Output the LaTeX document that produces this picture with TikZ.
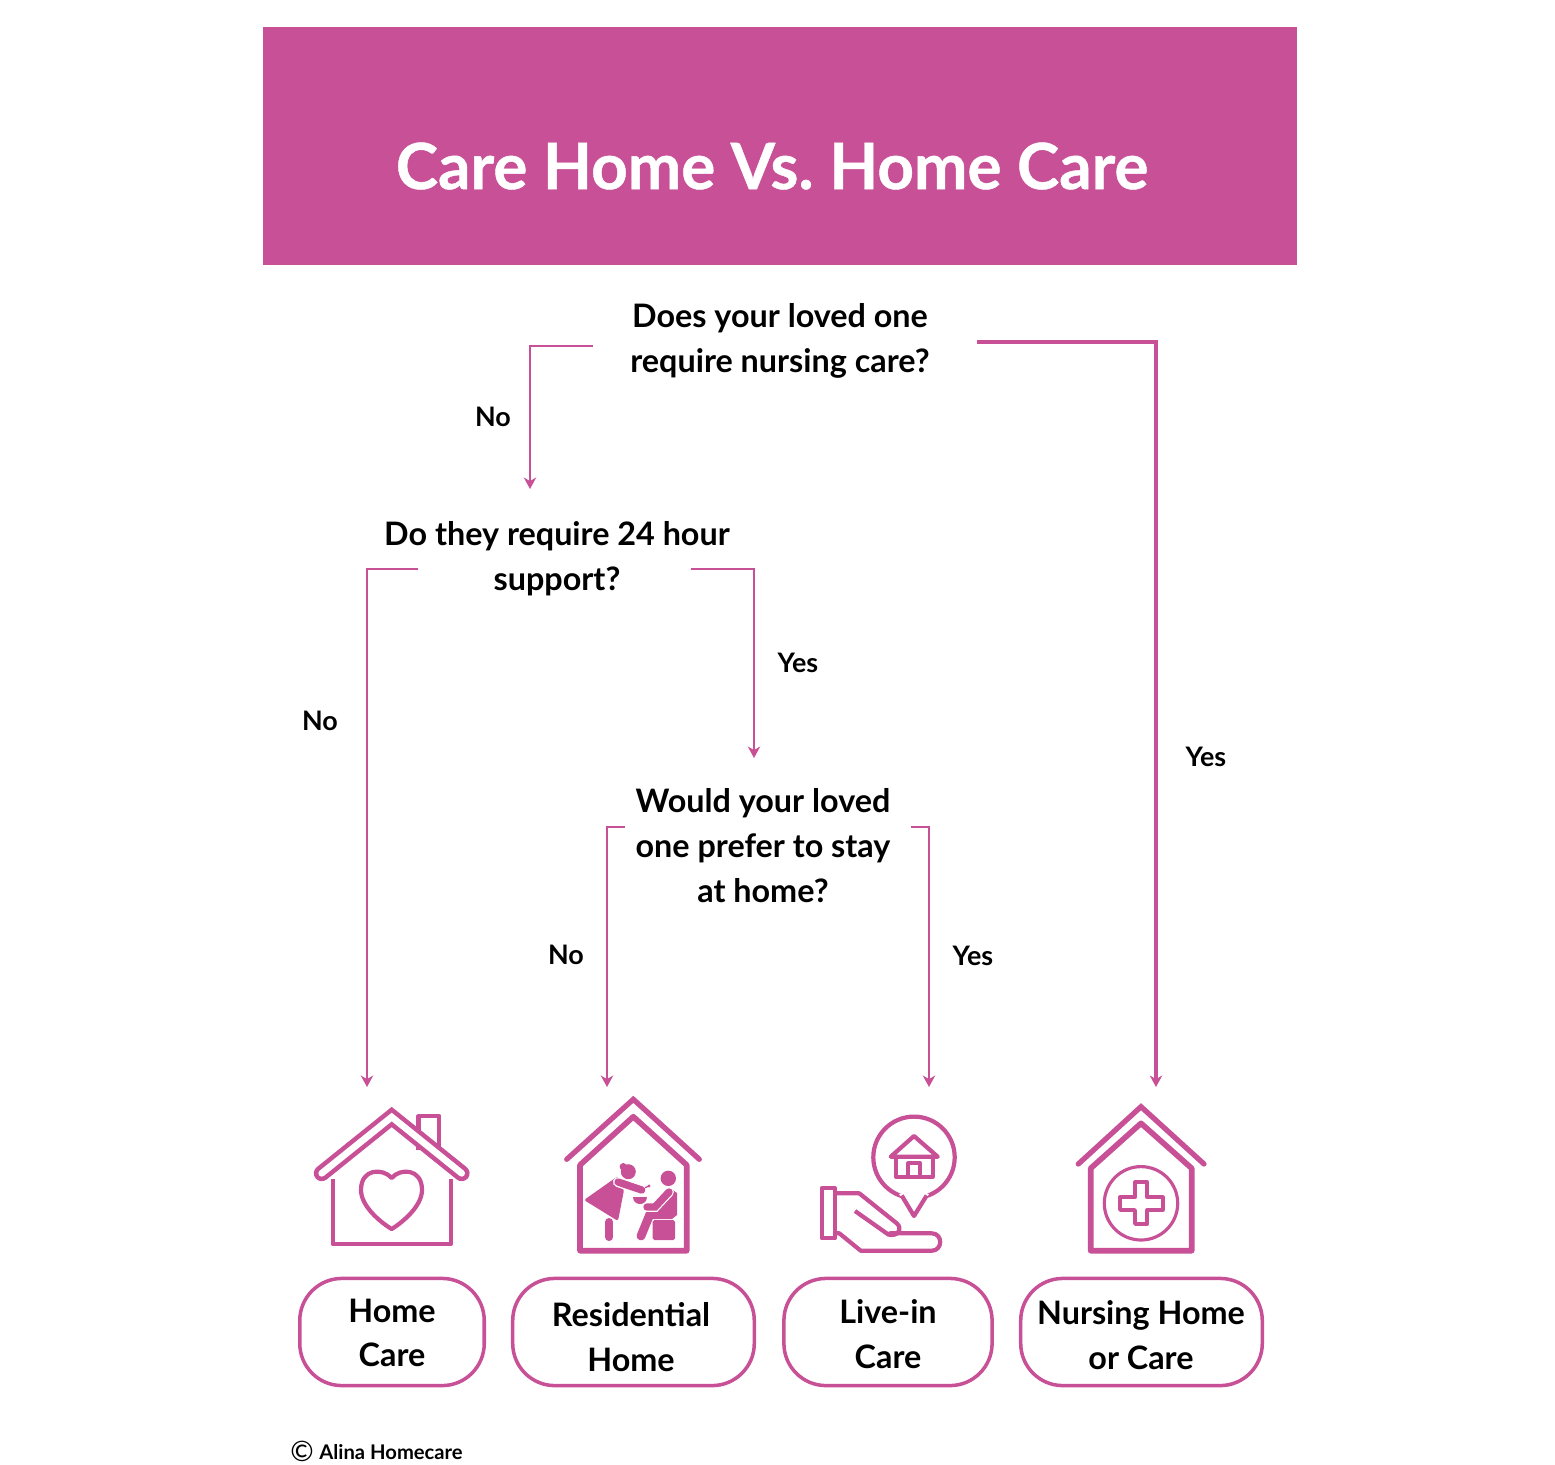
\documentclass[tikz,border=0pt]{standalone}
\usepackage{fontspec}
\setmainfont{Lato}
\newfontfamily\titlefont[FakeBold=0.7]{Lato Bold}
\usepackage{tikz}
\usetikzlibrary{arrows.meta,positioning}
\definecolor{alpink}{RGB}{200,80,150}
\tikzset{
  question/.style={font=\fontsize{18.4}{25.5}\selectfont\bfseries, align=center, text=black, inner sep=0pt},
  answer/.style={font=\fontsize{15.3}{18}\selectfont\bfseries, text=black, inner sep=0pt},
  outcomebox/.style={draw=alpink, line width=2pt, rounded corners=24pt, minimum height=61pt, inner sep=0pt},
  outcome/.style={font=\fontsize{18.4}{25.5}\selectfont\bfseries, align=center, text=black, inner sep=0pt},
  link/.style={draw=alpink, line width=1.65pt, -{Stealth[length=6.5pt,width=7pt,inset=2pt]}},
  icon/.style={draw=alpink, line width=2.4pt, line join=round},
  iconfill/.style={fill=alpink, draw=none}
}
\begin{document}
\frenchspacing
\begin{tikzpicture}[x=0.02cm,y=-0.02cm]
\useasboundingbox (0,0) rectangle (1555,1464);
% -- Banner --
\fill[alpink] (263,27) rectangle (1297,265);
\node[font=\fontsize{36.3}{40}\selectfont\titlefont, text=white, inner sep=0pt] (title) at (772,166) {Care Home Vs. Home Care};
% -- Questions --
\node[question] (q1) at (780,341) {Does your loved one\\require nursing care?};
\node[question] (q2) at (557,559) {Do they require 24 hour\\support?};
\node[question] (q3) at (763,845.5) {Would your loved\\one prefer to stay\\at home?};
% -- Outcome boxes --
\node[outcomebox, minimum width=105pt] (homebox) at (392,1332) {};
\node[outcomebox, minimum width=137.5pt] (residentialbox) at (633.5,1332) {};
\node[outcomebox, minimum width=118.5pt] (liveinbox) at (888,1332) {};
\node[outcomebox, minimum width=137.5pt] (nursingbox) at (1141.5,1332) {};
\node[outcome] (hometext) at (392,1333) {Home\\Care};
\node[outcome] (residentialtext) at (631,1337) {Residential\\Home};
\node[outcome] (liveintext) at (888,1334.5) {Live-in\\Care};
\node[outcome] (nursingtext) at (1141,1335.5) {Nursing Home\\or Care};
% Ends of the connectors
\coordinate (q1left) at (593,346);
\coordinate (q1right) at (977,342);
\coordinate (q2left) at (418,569);
\coordinate (q2right) at (691,569);
\coordinate (q3left) at (625,827);
\coordinate (q3right) at (911,827);
\coordinate (q2top) at (530,489);
\coordinate (q3top) at (754,758);
\coordinate (hometop) at (367,1087);
\coordinate (residentialtop) at (607,1087);
\coordinate (liveintop) at (929,1087);
\coordinate (nursingtop) at (1156,1087);
% -- Connectors --
\draw[link] (q1left) -| (q2top);
\draw[link, line width=1.8pt] (q1right) -| (nursingtop);
\draw[link] (q2left) -| (hometop);
\draw[link] (q2right) -| (q3top);
\draw[link] (q3left) -| (residentialtop);
\draw[link] (q3right) -| (liveintop);
% Answers
\node[answer] (no1) at (493,417) {No};
\node[answer] (no2) at (320,721) {No};
\node[answer] (no3) at (566,955) {No};
\node[answer] (yes1) at (1206,757) {Yes};
\node[answer] (yes2) at (798,663) {Yes};
\node[answer] (yes3) at (973,956) {Yes};
% -- Icon: house with heart --
\draw[icon, fill=white] (418.5,1150) -- (418.5,1116) -- (439.3,1116) -- (439.3,1150);
\draw[alpink, line width=9pt, line cap=round] (321.7,1173.3) -- (391.7,1117) -- (461.7,1173.3);
\draw[white, line width=3.8pt, line cap=round] (321.7,1173.3) -- (391.7,1117) -- (461.7,1173.3);
\draw[icon] (332.7,1179) -- (332.7,1244.3) -- (450.7,1244.3) -- (450.7,1179);
\draw[icon] (391.7,1178) .. controls (383,1168) and (361,1168) .. (361,1190)
  .. controls (361,1206) and (380,1222) .. (391.7,1229)
  .. controls (403,1222) and (422,1206) .. (422,1190)
  .. controls (422,1168) and (400,1168) .. (391.7,1178) -- cycle;
% -- Icon: house with carer --
\draw[alpink, line width=3pt, line cap=round] (566.7,1159.3) -- (633.3,1099.3) -- (699.3,1159.3);
\draw[icon, line width=3.2pt] (580,1165) -- (633.3,1116.7) -- (686.7,1165) -- (686.7,1250.7) -- (580,1250.7) -- cycle;
\fill[alpink] (628.3,1171.7) circle (7.5);
\fill[alpink] (623.3,1166.7) circle (3.7);
\fill[iconfill, rounded corners=1pt] (618,1176) -- (584,1200) -- (618,1221) -- (624,1190) -- cycle;
\draw[alpink, line width=4.6pt, line cap=round] (609.3,1222) -- (609.3,1237);
\draw[white, line width=5.8pt, line cap=round] (618,1182) -- (641.7,1190);
\draw[alpink, line width=4.2pt, line cap=round] (618,1182) -- (641.7,1190);
\fill[alpink] (668.3,1178.3) circle (7.7);
\fill[iconfill] (670,1188) -- (677,1193) -- (677,1215) -- (672,1219) -- (648,1219) -- (652,1206) -- cycle;
\draw[alpink, line width=5pt, line cap=round] (665,1214) -- (650,1214) -- (641,1236);
\draw[white, line width=5.6pt, line cap=round] (669,1192) -- (655,1207) -- (645,1207);
\draw[alpink, line width=4.2pt, line cap=round] (669,1192) -- (655,1207) -- (647,1207);
\fill[alpink, rounded corners=1pt] (652.7,1220) rectangle (675,1240);
\fill[white] (631,1194.5) rectangle (649,1197);
\fill[alpink] (633,1197) -- (647,1197) .. controls (647,1202) and (643,1204) .. (640,1204) .. controls (637,1204) and (633,1202) .. (633,1197) -- cycle;
\draw[alpink, line width=0.7pt] (645,1187.5) -- (648,1186.5);
\fill[alpink] (649,1186) circle (1.6);
% -- Icon: hand with bubble --
\draw[icon] (914,1157.3) circle (40.7);
\fill[white] (899,1194) -- (914,1216) -- (929,1194) -- (914,1190) -- cycle;
\draw[icon] (901.7,1195.5) -- (914,1216) -- (926.7,1195.5);
\draw[icon] (890.7,1156.7) -- (914,1136) -- (937.7,1156.7) -- cycle;
\draw[icon] (896,1156.7) rectangle (932.7,1176.7);
\draw[icon] (908.3,1176.7) -- (908.3,1163.3) -- (920,1163.3) -- (920,1176.7);
\draw[icon] (821.7,1188.3) rectangle (835,1238.3);
\draw[icon] (835,1193.3) -- (859.3,1193.3) -- (896.7,1223.3)
  .. controls (902,1228) and (900,1235) .. (891,1235)
  .. controls (890,1235) and (889,1235) .. (888.3,1234.5) -- (855,1211);
\draw[icon, line cap=round] (890,1233.3) -- (931.7,1233.3)
  .. controls (943,1233.3) and (943,1250.7) .. (931.7,1250.7)
  -- (860.7,1250.7) -- (839.3,1233.3) -- (835,1233.3);
% -- Icon: house with cross --
\draw[alpink, line width=3pt, line cap=round] (1078.3,1164) -- (1141,1106.7) -- (1204,1164);
\draw[icon, line width=3.2pt] (1090.7,1168.3) -- (1141,1123.3) -- (1191.7,1168.3) -- (1191.7,1250.7) -- (1090.7,1250.7) -- cycle;
\draw[icon, line width=1.8pt] (1141,1203.3) circle (36.7);
\draw[icon, line width=2.1pt] (1135,1182.3) -- (1147.3,1182.3) -- (1147.3,1197.3) -- (1162.7,1197.3) -- (1162.7,1210)
  -- (1147.3,1210) -- (1147.3,1224) -- (1135,1224) -- (1135,1210) -- (1120,1210) -- (1120,1197.3)
  -- (1135,1197.3) -- cycle;
% -- Credit --
\node[font=\fontsize{11.5}{14}\selectfont\bfseries, text=black, inner sep=0pt, anchor=west] (credit) at (319,1452) {Alina Homecare};
\node[font=\fontsize{16}{18}\selectfont, text=black, inner sep=0pt] (copymark) at (302,1451) {©};
\end{tikzpicture}
\end{document}
